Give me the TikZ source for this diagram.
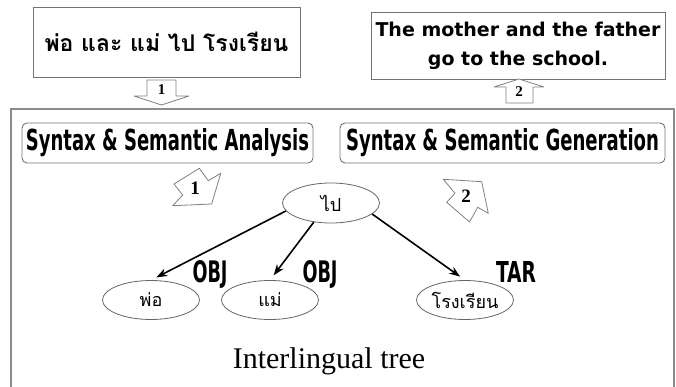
\documentclass[tikz,border=0pt]{standalone}
\usepackage{graphicx}
\usepackage{fontspec}
\setmainfont{Liberation Serif}
\newfontfamily\thaifont[Script=Thai]{Loma}
\newfontfamily\verdana{DejaVu Sans}
\newfontfamily\impact{DejaVu Sans Condensed}
\usetikzlibrary{arrows.meta,shapes.geometric}

\newcommand{\heavy}[3]{\resizebox{#1}{#2}{\impact\bfseries #3}}

\tikzset{
  box/.style={draw=black!55, line width=0.9pt, inner sep=0pt},
  tag/.style={draw=black!55, line width=0.9pt, rounded corners=5pt, inner sep=0pt},
  blockarrow/.style={draw=black!50, line width=0.8pt, fill=white, line join=round},
  num/.style={inner sep=0pt, font=\bfseries\fontsize{19}{19}\selectfont},
  word/.style={ellipse, draw=black!60, line width=0.8pt, minimum width=97pt,
    minimum height=39pt, inner sep=0pt, font=\thaifont\fontsize{18}{18}\selectfont},
  link/.style={-{Stealth[length=11pt,width=8pt]}, line width=1.6pt, shorten >=6pt},
  rel/.style={inner sep=0pt}
}

\begin{document}
\begin{tikzpicture}[x=1pt, y=-1pt]
\useasboundingbox (0,0) rectangle (676,387);

\node[box, minimum width=267pt, minimum height=70pt,
  font=\thaifont\bfseries\fontsize{23}{23}\selectfont] (thai) at (166.5,42) {พ่อ และ แม่ ไป โรงเรียน};
\node[box, minimum width=294pt, minimum height=67pt, align=center,
  font=\verdana\bfseries\fontsize{19}{29}\selectfont] (english) at (518,46)
  {The mother and the father\\go to the school.};

% outer frame, open at the bottom
\draw[black!45, line width=1.2pt] (11,387) -- (11,109) -- (674,109) -- (674,387);

% down and up arrows
\draw[blockarrow] (147,80) -- (176,80) -- (176,96) -- (189,96) -- (161.5,105) -- (134,96) -- (147,96) -- cycle;
\node[num, font=\bfseries\fontsize{15}{15}\selectfont] (one) at (161.5,90) {1};
\draw[blockarrow] (506,103) -- (506,87) -- (494,87) -- (519,79) -- (544,87) -- (533,87) -- (533,103) -- cycle;
\node[num, font=\bfseries\fontsize{15}{15}\selectfont] (two) at (519,92) {2};

\node[tag, minimum width=291pt, minimum height=40pt] (analysis) at (167.5,143)
  {\heavy{283pt}{22pt}{Syntax \& Semantic Analysis}};
\node[tag, minimum width=325pt, minimum height=40pt] (generation) at (502.5,143)
  {\heavy{313pt}{22pt}{Syntax \& Semantic Generation}};

% tilted arrows
\draw[blockarrow] (199.3,168.3) -- (208.3,180.7) -- (220.7,173.3) -- (211.7,204) -- (172.7,205.7) -- (182.7,195) -- (174,184) -- cycle;
\node[num] (stepone) at (195,188) {1};
\draw[blockarrow] (443.3,179.3) -- (455,193.3) -- (446.7,202.3) -- (469.5,222) -- (477.7,207.3) -- (488.3,213.3) -- (481.7,181.7) -- cycle;
\node[num] (steptwo) at (466,196) {2};

% tree
\node[word, minimum height=40pt] (pai) at (331,203) {ไป};
\node[word] (pho) at (151,300) {พ่อ};
\node[word] (mae) at (270,300) {แม่};
\node[word] (school) at (465,300) {โรงเรียน};

\draw[link] (pai.190) -- (pho.north);
\draw[link] (pai.228) -- (mae.north);
\draw[link] (pai.345) -- (school.north);

\node[rel] (obj1) at (210,274) {\heavy{35pt}{22pt}{OBJ}};
\node[rel] (obj2) at (320,274) {\heavy{35pt}{22pt}{OBJ}};
\node[rel] (tar) at (516,272) {\heavy{40pt}{21pt}{TAR}};

\node[anchor=base, font=\fontsize{30}{30}\selectfont] (caption) at (329,368) {Interlingual tree};
\end{tikzpicture}
\end{document}
